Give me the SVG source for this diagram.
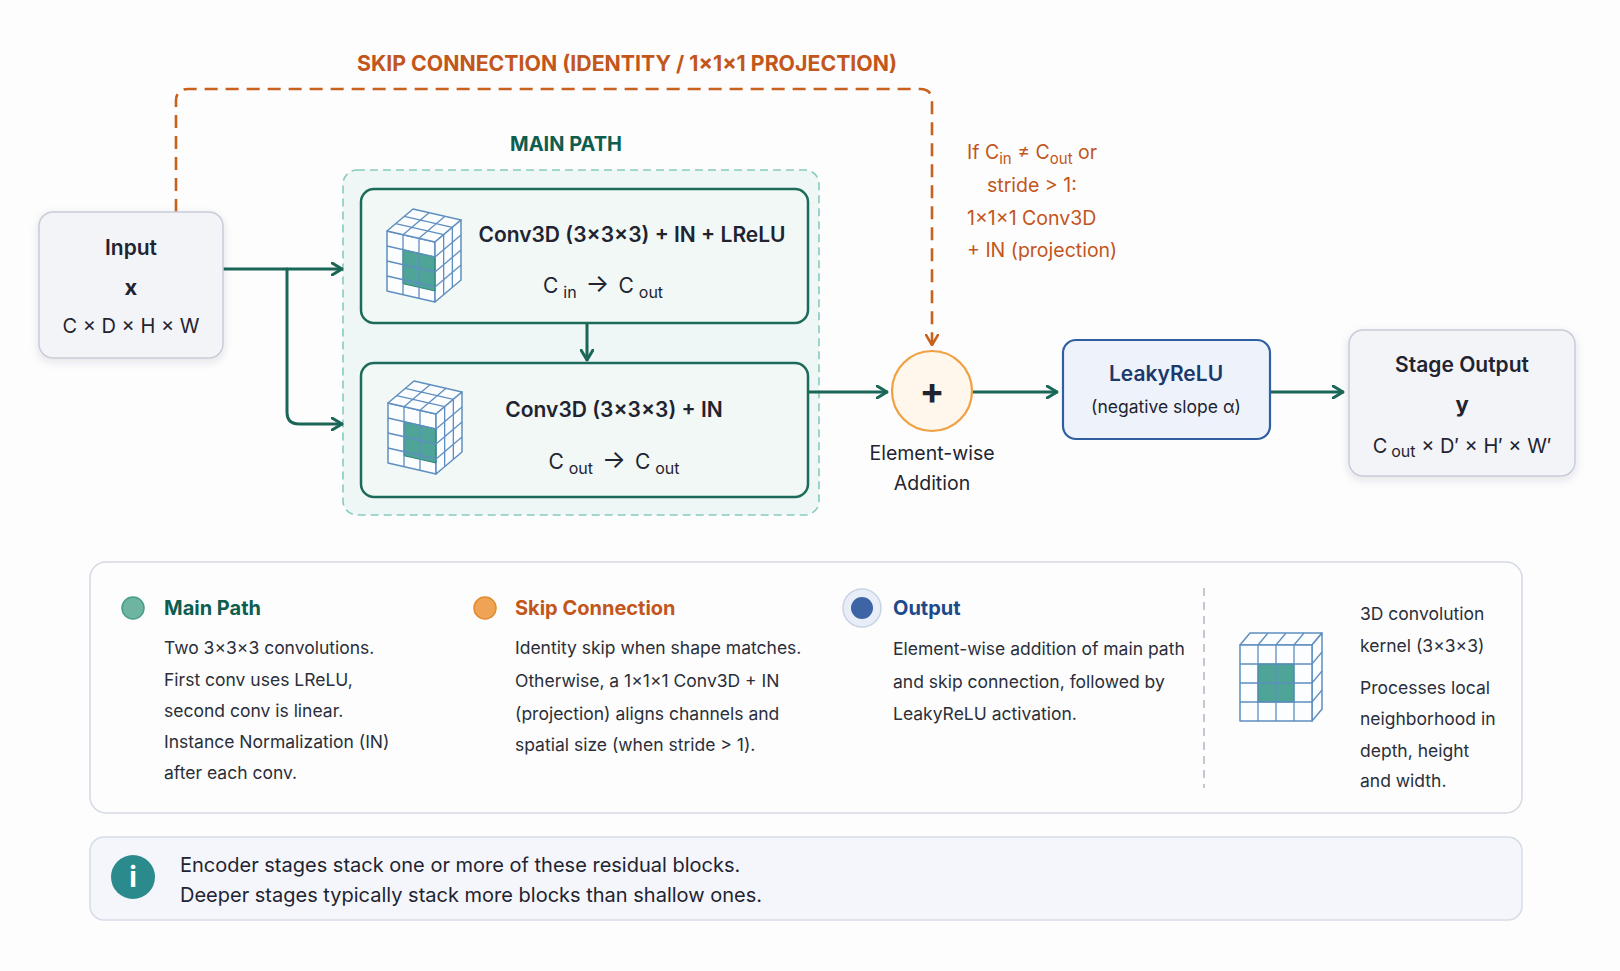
<svg xmlns="http://www.w3.org/2000/svg" xmlns:xlink="http://www.w3.org/1999/xlink" width="1620" height="971" viewBox="0 0 1620 971">
<defs>
<style>
text{font-family:Inter,"Noto Sans","Liberation Sans",sans-serif;}
.t{fill:#1f2430;}
.b{font-weight:700;}
.sb{font-weight:600;}
.or{fill:#c2561b;}
.gr{fill:#0e5e50;}
.nv{fill:#1b3a6b;}
.body{font-size:17.5px;fill:#2a2f3a;}
.conn{fill:none;stroke:#1a6657;stroke-width:3;stroke-linecap:round;stroke-linejoin:round;}
.cube{fill:#fbfdff;stroke:#5f8fc0;stroke-width:1.5;stroke-linejoin:round;}
.grid{fill:none;stroke:#5f8fc0;stroke-width:1.3;}
.hl{fill:#3a9a8c;fill-opacity:.9;stroke:#2e8478;stroke-width:1;}
</style>
<marker id="ag" viewBox="0 0 12 14" refX="11" refY="7" markerWidth="12" markerHeight="14" markerUnits="userSpaceOnUse" orient="auto">
<path d="M1,1 L11,7 L1,13" fill="none" stroke="#1a6657" stroke-width="3" stroke-linecap="round" stroke-linejoin="round"/>
</marker>
<marker id="ao" viewBox="0 0 12 14" refX="11" refY="7" markerWidth="12" markerHeight="14" markerUnits="userSpaceOnUse" orient="auto">
<path d="M1,1 L11,7 L1,13" fill="none" stroke="#c8601e" stroke-width="2.6" stroke-linecap="round" stroke-linejoin="round"/>
</marker>
<filter id="sh" x="-20%" y="-20%" width="140%" height="150%">
<feDropShadow dx="0" dy="3" stdDeviation="4" flood-color="#334" flood-opacity="0.13"/>
</filter>
<g id="cube">
<path class="cube" d="M0,0 L48,11 L48,71 L0,60 Z"/>
<path class="cube" d="M0,0 L26,-22 L74,-11 L48,11 Z"/>
<path class="cube" d="M48,11 L74,-11 L74,49 L48,71 Z"/>
<path class="hl" d="M16,18.67 L48,26 L48,60 L16,52.67 Z"/>
<path class="grid" d="M16,3.67 V63.67 M32,7.33 V67.33 M0,15 L48,26 M0,30 L48,41 M0,45 L48,56 M16,3.67 L42,-18.33 M32,7.33 L58,-14.67 M8.67,-7.33 L56.67,3.67 M17.33,-14.67 L65.33,-3.67 M56.67,3.67 V63.67 M65.33,-3.67 V56.33 M48,26 L74,4 M48,41 L74,19 M48,56 L74,34"/>
</g>
</defs>
<rect width="1620" height="971" fill="#fdfdfe"/>

<!-- main path container -->
<g id="main-path-group">
<rect x="343" y="170" width="476" height="345" rx="14" fill="#eef7f5" stroke="#86cbbe" stroke-width="1.6" stroke-dasharray="8 5"/>
<text x="566" y="151" text-anchor="middle" class="b gr" font-size="20">MAIN PATH</text>
</g>

<!-- connectors -->
<g id="connectors">
<path d="M176,212 V101 Q176,89 188,89 H920 Q932,89 932,101 V345" fill="none" stroke="#c8601e" stroke-width="2.6" stroke-dasharray="13 8" marker-end="url(#ao)"/>
<path class="conn" d="M223,269 H342" marker-end="url(#ag)"/>
<path class="conn" d="M287,269 V412 Q287,424 299,424 H342" marker-end="url(#ag)"/>
<path class="conn" d="M587,323 V360" marker-end="url(#ag)"/>
<path class="conn" d="M808,392 H887" marker-end="url(#ag)"/>
<path class="conn" d="M973,392 H1057" marker-end="url(#ag)"/>
<path class="conn" d="M1270,392 H1343" marker-end="url(#ag)"/>
</g>

<text x="627" y="71" text-anchor="middle" class="b or" font-size="21.3">SKIP CONNECTION (IDENTITY / 1×1×1 PROJECTION)</text>

<g id="skip-note" class="or" font-size="19.5">
<text x="967" y="159">If C<tspan font-size="15" dy="5">in</tspan><tspan dy="-5"> ≠ C</tspan><tspan font-size="15" dy="5">out</tspan><tspan dy="-5"> or</tspan></text>
<text x="987" y="192">stride &gt; 1:</text>
<text x="967" y="225">1×1×1 Conv3D</text>
<text x="967" y="257">+ IN (projection)</text>
</g>

<!-- input -->
<g id="input">
<rect x="39" y="212" width="184" height="146" rx="14" fill="#f3f4f8" stroke="#c8ccd8" stroke-width="1.5" filter="url(#sh)"/>
<text x="131" y="255" text-anchor="middle" class="t sb" font-size="21">Input</text>
<text x="131" y="295" text-anchor="middle" class="t b" font-size="22">x</text>
<text x="131" y="333" text-anchor="middle" class="t" font-size="20">C × D × H × W</text>
</g>

<!-- conv 1 -->
<g id="conv1">
<rect x="361" y="189" width="447" height="134" rx="13" fill="#f1f8f6" stroke="#1e6b5b" stroke-width="2.5"/>
<use href="#cube" xlink:href="#cube" x="387" y="231"/>
<text x="632" y="242" text-anchor="middle" class="t sb" font-size="21">Conv3D (3×3×3) + IN + LReLU</text>
<text x="603" y="293" text-anchor="middle" class="t" font-size="21">C<tspan font-size="16" dx="5" dy="5">in</tspan><tspan dy="-6" dx="9" font-size="25">→</tspan><tspan dx="9" dy="1">C</tspan><tspan font-size="16" dx="5" dy="5">out</tspan></text>
</g>

<!-- conv 2 -->
<g id="conv2">
<rect x="361" y="363" width="447" height="134" rx="13" fill="#f1f8f6" stroke="#1e6b5b" stroke-width="2.5"/>
<use href="#cube" xlink:href="#cube" x="388" y="403"/>
<text x="614" y="417" text-anchor="middle" class="t sb" font-size="21">Conv3D (3×3×3) + IN</text>
<text x="614" y="469" text-anchor="middle" class="t" font-size="21">C<tspan font-size="16" dx="5" dy="5">out</tspan><tspan dy="-6" dx="9" font-size="25">→</tspan><tspan dx="9" dy="1">C</tspan><tspan font-size="16" dx="5" dy="5">out</tspan></text>
</g>

<!-- addition -->
<g id="addition">
<circle cx="932" cy="391" r="40" fill="#fff6ec" stroke="#f0a040" stroke-width="2.2"/>
<text x="932" y="404" text-anchor="middle" class="t b" font-size="37">+</text>
<text x="932" y="460" text-anchor="middle" class="t" font-size="19.5">Element-wise</text>
<text x="932" y="490" text-anchor="middle" class="t" font-size="19.5">Addition</text>
</g>

<!-- leaky relu -->
<g id="leakyrelu">
<rect x="1063" y="340" width="207" height="99" rx="13" fill="#eef3fb" stroke="#2f5fa0" stroke-width="2.2"/>
<text x="1166" y="381" text-anchor="middle" class="nv sb" font-size="21">LeakyReLU</text>
<text x="1166" y="413" text-anchor="middle" class="t" font-size="17.5">(negative slope α)</text>
</g>

<!-- stage output -->
<g id="stage-output">
<rect x="1349" y="330" width="226" height="146" rx="14" fill="#f3f4f8" stroke="#c8ccd8" stroke-width="1.5" filter="url(#sh)"/>
<text x="1462" y="372" text-anchor="middle" class="t sb" font-size="21">Stage Output</text>
<text x="1462" y="412" text-anchor="middle" class="t b" font-size="22">y</text>
<text x="1462" y="453" text-anchor="middle" class="t" font-size="20">C<tspan font-size="16" dx="4" dy="4">out</tspan><tspan dy="-4"> × D′ × H′ × W′</tspan></text>
</g>

<!-- legend -->
<g id="legend">
<rect x="90" y="562" width="1432" height="251" rx="16" fill="#fdfdfe" stroke="#d5d9e3" stroke-width="1.5"/>
<circle cx="133" cy="608" r="11" fill="#6db5a0" stroke="#4a9e86" stroke-width="1.5"/>
<text x="164" y="615" class="b gr" font-size="20">Main Path</text>
<text class="body" x="164" y="654">Two 3×3×3 convolutions.</text>
<text class="body" x="164" y="686">First conv uses LReLU,</text>
<text class="body" x="164" y="717">second conv is linear.</text>
<text class="body" x="164" y="748">Instance Normalization (IN)</text>
<text class="body" x="164" y="779">after each conv.</text>

<circle cx="485" cy="608" r="11" fill="#efa455" stroke="#e08c30" stroke-width="1.5"/>
<text x="515" y="615" class="b or" font-size="20">Skip Connection</text>
<text class="body" x="515" y="654">Identity skip when shape matches.</text>
<text class="body" x="515" y="687">Otherwise, a 1×1×1 Conv3D + IN</text>
<text class="body" x="515" y="720">(projection) aligns channels and</text>
<text class="body" x="515" y="751">spatial size (when stride &gt; 1).</text>

<circle cx="862" cy="608" r="19" fill="#e8eef7" stroke="#c9d3e4" stroke-width="1.5"/>
<circle cx="862" cy="608" r="11" fill="#3d65a5"/>
<text x="893" y="615" class="b" fill="#1e4a8a" font-size="20">Output</text>
<text class="body" x="893" y="655">Element-wise addition of main path</text>
<text class="body" x="893" y="688">and skip connection, followed by</text>
<text class="body" x="893" y="720">LeakyReLU activation.</text>

<path d="M1204,588 V788" stroke="#aeb6c8" stroke-width="1.5" stroke-dasharray="8 6"/>

<g id="kernel-icon">
<path class="cube" d="M1240,645 L1250,633 L1322,633 L1312,645 Z"/>
<path class="cube" d="M1312,645 L1322,633 L1322,709 L1312,721 Z"/>
<rect class="cube" x="1240" y="645" width="72" height="76"/>
<rect class="hl" x="1258" y="664" width="36" height="38"/>
<path class="grid" d="M1258,645 V721 M1276,645 V721 M1294,645 V721 M1240,664 H1312 M1240,683 H1312 M1240,702 H1312 M1258,645 L1268,633 M1276,645 L1286,633 M1294,645 L1304,633 M1312,664 L1322,652 M1312,683 L1322,671 M1312,702 L1322,690"/>
</g>
<text class="body" x="1360" y="620">3D convolution</text>
<text class="body" x="1360" y="652">kernel (3×3×3)</text>
<text class="body" x="1360" y="694">Processes local</text>
<text class="body" x="1360" y="725">neighborhood in</text>
<text class="body" x="1360" y="757">depth, height</text>
<text class="body" x="1360" y="787">and width.</text>
</g>

<!-- info -->
<g id="info">
<rect x="90" y="837" width="1432" height="83" rx="14" fill="#f4f6fb" stroke="#d5dce8" stroke-width="1.5"/>
<circle cx="133" cy="877" r="22" fill="#2b8a8c"/>
<text x="133" y="887" text-anchor="middle" class="b" fill="#ffffff" font-size="28">i</text>
<text x="180" y="872" class="t" font-size="20">Encoder stages stack one or more of these residual blocks.</text>
<text x="180" y="902" class="t" font-size="20">Deeper stages typically stack more blocks than shallow ones.</text>
</g>
</svg>
